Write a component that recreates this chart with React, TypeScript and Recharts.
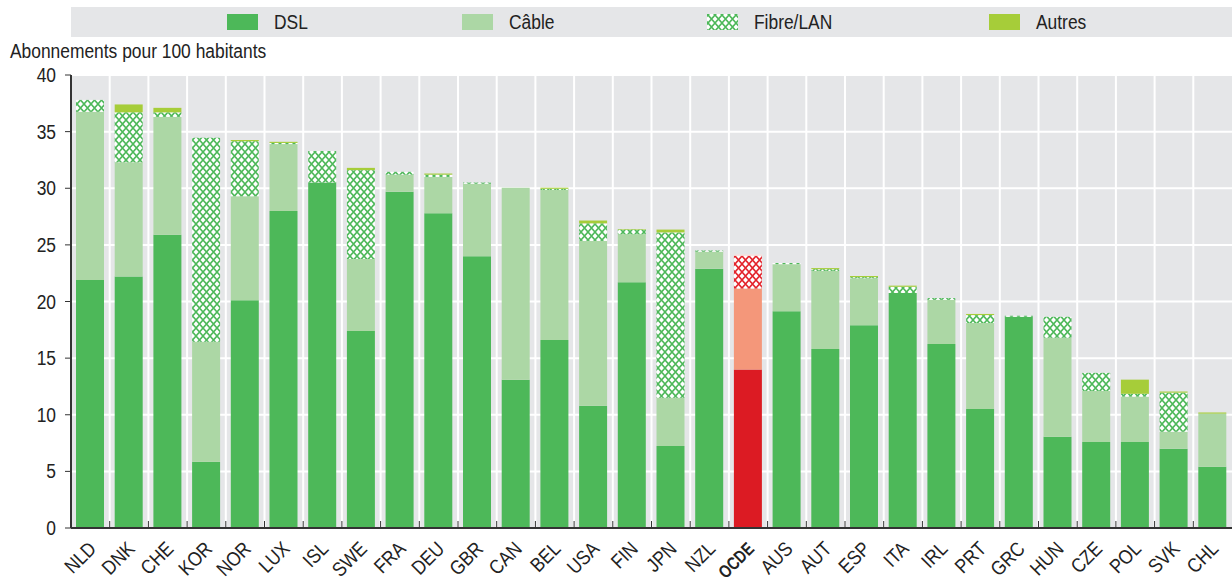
import React from 'react';
import { BarChart, Bar, XAxis, YAxis, CartesianGrid, Legend, Cell } from 'recharts';

const categories = ['NLD','DNK','CHE','KOR','NOR','LUX','ISL','SWE','FRA','DEU','GBR','CAN','BEL','USA','FIN','JPN','NZL','OCDE','AUS','AUT','ESP','ITA','IRL','PRT','GRC','HUN','CZE','POL','SVK','CHL'];
const dslValues = [21.9,22.2,25.9,5.85,20.1,28.0,30.5,17.4,29.7,27.8,24.0,13.1,16.6,10.8,21.7,7.25,22.9,14.0,19.15,15.8,17.9,20.75,16.25,10.5,18.65,8.05,7.6,7.6,7.0,5.4];
const cableValues = [14.85,10.1,10.4,10.6,9.2,5.9,0,6.35,1.5,3.2,6.4,16.95,13.25,14.55,4.25,4.25,1.5,7.15,4.15,6.9,4.15,0,3.9,7.6,0,8.75,4.5,4.0,1.5,4.7];
const fibreValues = [1.05,4.4,0.4,18.0,4.85,0.1,2.8,7.85,0.25,0.2,0.1,0,0.1,1.55,0.4,14.6,0.1,2.9,0.1,0.15,0.1,0.55,0.15,0.7,0.1,1.85,1.6,0.25,3.45,0];
const autresValues = [0,0.7,0.4,0,0.1,0.1,0,0.2,0,0.1,0,0,0.1,0.25,0.05,0.25,0,0.1,0,0.1,0.1,0.1,0,0.1,0,0,0,1.25,0.1,0.1];
const yTicks = [0,5,10,15,20,25,30,35,40];
const highlight = 'OCDE';

const data = categories.map((c, i) => ({
  name: c,
  dsl: dslValues[i],
  cable: cableValues[i],
  fibre: fibreValues[i],
  autres: autresValues[i],
}));

const FONT = "'Liberation Sans', Arial, sans-serif";
const SX = 0.87;
const TXT = '#222';
const BG = '#e5e6e8';

const C = {
  dsl: '#4db859', cable: '#acd7a5', autres: '#a6cd39', hatch: '#4db859',
  dslH: '#dc1b23', cableH: '#f4977a', autresH: '#fde1dc', hatchH: '#e3232b',
};

const legendItems = [
  { key: 'dsl', label: 'DSL', fill: C.dsl, pos: 156 },
  { key: 'cable', label: 'Câble', fill: C.cable, pos: 391 },
  { key: 'fibre', label: 'Fibre/LAN', fill: 'url(#legendHatch)', pos: 636 },
  { key: 'autres', label: 'Autres', fill: C.autres, pos: 918 },
];

const Narrow = ({ x, y, size, anchor = 'start', weight = 400, rotate = 0, sx = SX, dy, children }: any) => (
  <text
    transform={`translate(${x} ${y}) rotate(${rotate}) scale(${sx} 1)`}
    textAnchor={anchor}
    dy={dy}
    fontFamily={FONT}
    fontSize={size}
    fontWeight={weight}
    fill={TXT}
  >
    {children}
  </text>
);

const renderLegend = () => (
  <svg width={1161} height={30} style={{ display: 'block' }}>
    <defs>
      <pattern id="legendHatch" width={7} height={8} patternUnits="userSpaceOnUse">
        <rect width={7} height={8} fill="#fff" />
        <path d="M0,0 L7,8 M7,0 L0,8" stroke={C.hatch} strokeWidth={1.6} />
      </pattern>
    </defs>
    <rect width={1161} height={30} fill={BG} />
    {legendItems.map((it) => (
      <g key={it.key}>
        <rect x={it.pos} y={7} width={31} height={16} fill={it.fill} />
        <Narrow x={it.pos + 47} y={22} size={20}>{it.label}</Narrow>
      </g>
    ))}
  </svg>
);

const XTick = (props: any) => {
  const { x, y, payload } = props;
  const half = payload && typeof payload.offset === 'number' ? payload.offset : 0;
  const bold = payload.value === highlight;
  return (
    <g>
      <line x1={x - half} x2={x - half} y1={y} y2={y - 7} stroke="#333" strokeWidth={1} />
      <Narrow x={x + 7} y={y + 22} size={bold ? 18 : 20} sx={bold ? 0.8 : SX} anchor="end" rotate={-45} weight={bold ? 700 : 400}>
        {payload.value}
      </Narrow>
    </g>
  );
};

const YTick = (props: any) => {
  const { x, y, payload } = props;
  return (
    <Narrow x={x} y={y} size={20} anchor="end" dy="0.355em">{payload.value}</Narrow>
  );
};

const YTitle = () => (
  <Narrow x={10} y={58} size={20}>Abonnements pour 100 habitants</Narrow>
);

const verticalGen = ({ offset }: any) => {
  const n = categories.length;
  const pts: number[] = [];
  for (let i = 1; i < n; i++) pts.push(offset.left + (i * offset.width) / n);
  return pts;
};

export default function App() {
  return (
    <div style={{ position: 'absolute', left: 0, top: 0, width: 1232, height: 581 }}>
      <BarChart width={1232} height={581} data={data} margin={{ top: 45, right: 0, bottom: 0, left: 0 }}>
        <defs>
          <pattern id="hatchG" width={7} height={8} patternUnits="userSpaceOnUse">
            <rect width={7} height={8} fill="#fff" />
            <path d="M0,0 L7,8 M7,0 L0,8" stroke={C.hatch} strokeWidth={1.6} />
          </pattern>
          <pattern id="hatchR" width={7} height={8} patternUnits="userSpaceOnUse">
            <rect width={7} height={8} fill="#fff" />
            <path d="M0,0 L7,8 M7,0 L0,8" stroke={C.hatchH} strokeWidth={1.6} />
          </pattern>
        </defs>
        <CartesianGrid fill={BG} stroke="#ffffff" strokeWidth={2} verticalCoordinatesGenerator={verticalGen} />
        <XAxis dataKey="name" interval={0} height={53} tickSize={0} tickMargin={0} tickLine={false} tick={<XTick />} axisLine={{ stroke: '#333', strokeWidth: 2 }} />
        <YAxis width={71} domain={[0, 40]} ticks={yTicks} interval={0} tickSize={6} tickMargin={9} axisLine={{ stroke: '#333', strokeWidth: 2 }} tickLine={{ stroke: '#333' }} tick={<YTick />} label={<YTitle />} />
        <Legend verticalAlign="top" content={renderLegend} wrapperStyle={{ position: 'absolute', top: 7, left: 71, width: 1161, height: 30 }} />
        <Bar dataKey="dsl" stackId="a" barSize={28} isAnimationActive={false}>
          {data.map((d) => <Cell key={d.name} fill={d.name === highlight ? C.dslH : C.dsl} />)}
        </Bar>
        <Bar dataKey="cable" stackId="a" barSize={28} isAnimationActive={false}>
          {data.map((d) => <Cell key={d.name} fill={d.name === highlight ? C.cableH : C.cable} />)}
        </Bar>
        <Bar dataKey="fibre" stackId="a" barSize={28} isAnimationActive={false}>
          {data.map((d) => <Cell key={d.name} fill={d.name === highlight ? 'url(#hatchR)' : 'url(#hatchG)'} />)}
        </Bar>
        <Bar dataKey="autres" stackId="a" barSize={28} isAnimationActive={false}>
          {data.map((d) => <Cell key={d.name} fill={d.name === highlight ? C.autresH : C.autres} />)}
        </Bar>
      </BarChart>
    </div>
  );
}
